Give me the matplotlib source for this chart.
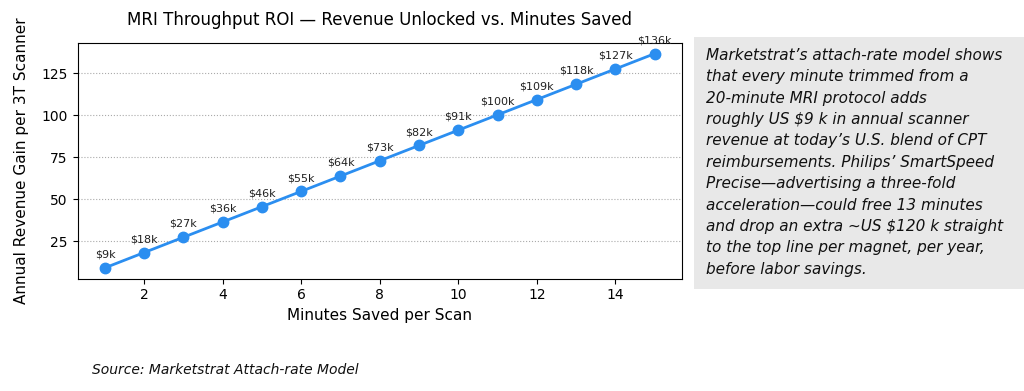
import matplotlib
matplotlib.use("Agg")
import matplotlib.pyplot as plt
from matplotlib.patches import Rectangle

minutes = [1, 2, 3, 4, 5, 6, 7, 8, 9, 10, 11, 12, 13, 14, 15]
revenue_k = [9.1, 18.2, 27.3, 36.4, 45.5, 54.6, 63.7, 72.8, 81.9, 91.0,
             100.1, 109.2, 118.3, 127.4, 136.5]
point_labels = ["$9k", "$18k", "$27k", "$36k", "$46k", "$55k", "$64k", "$73k",
                "$82k", "$91k", "$100k", "$109k", "$118k", "$127k", "$136k"]

title = "MRI Throughput ROI — Revenue Unlocked vs. Minutes Saved"
xlabel = "Minutes Saved per Scan"
ylabel = "Annual Revenue Gain per 3T Scanner"
note_lines = [
    "Marketstrat’s attach-rate model shows",
    "that every minute trimmed from a",
    "20-minute MRI protocol adds",
    "roughly US $9 k in annual scanner",
    "revenue at today’s U.S. blend of CPT",
    "reimbursements. Philips’ SmartSpeed",
    "Precise—advertising a three-fold",
    "acceleration—could free 13 minutes",
    "and drop an extra ~US $120 k straight",
    "to the top line per magnet, per year,",
    "before labor savings.",
]
source = "Source: Marketstrat Attach-rate Model"

fig = plt.figure(figsize=(10.24, 3.91), dpi=100)
ax = fig.add_axes([0.0757, 0.2877, 0.5903, 0.6023])

color = "#2b8ef0"
ax.plot(minutes, revenue_k, color=color, lw=2, marker="o", ms=7.5, zorder=3)
for x, y, lab in zip(minutes, revenue_k, point_labels):
    ax.annotate(lab, (x, y), textcoords="offset points", xytext=(0, 6),
                ha="center", va="bottom", fontsize=8, color="#222222")

ax.grid(axis="y", linestyle=":", color="#aaaaaa", lw=0.8)
ax.set_axisbelow(True)
ax.set_title(title, fontsize=12, pad=13)
ax.set_xlabel(xlabel, fontsize=11)
ax.set_ylabel(ylabel, fontsize=11, labelpad=9)
ax.tick_params(labelsize=10)
ax.set_yticks([25, 50, 75, 100, 125])
ax.set_xticks([2, 4, 6, 8, 10, 12, 14])

# side note box
fig.patches.append(Rectangle((694 / 1024, 1 - 289 / 391), 330 / 1024, 252 / 391,
                             transform=fig.transFigure, facecolor="#e8e8e8",
                             edgecolor="none", zorder=0))
fig.text(706 / 1024, 1 - 48 / 391, "\n".join(note_lines), ha="left", va="top",
         fontsize=11, style="italic", family="DejaVu Sans", linespacing=1.53,
         color="#111111")

fig.text(92 / 1024, 1 - 370 / 391, source, ha="left", va="center",
         fontsize=10, style="italic", family="DejaVu Sans", color="#111111")

fig.savefig("out.png", dpi=100)
